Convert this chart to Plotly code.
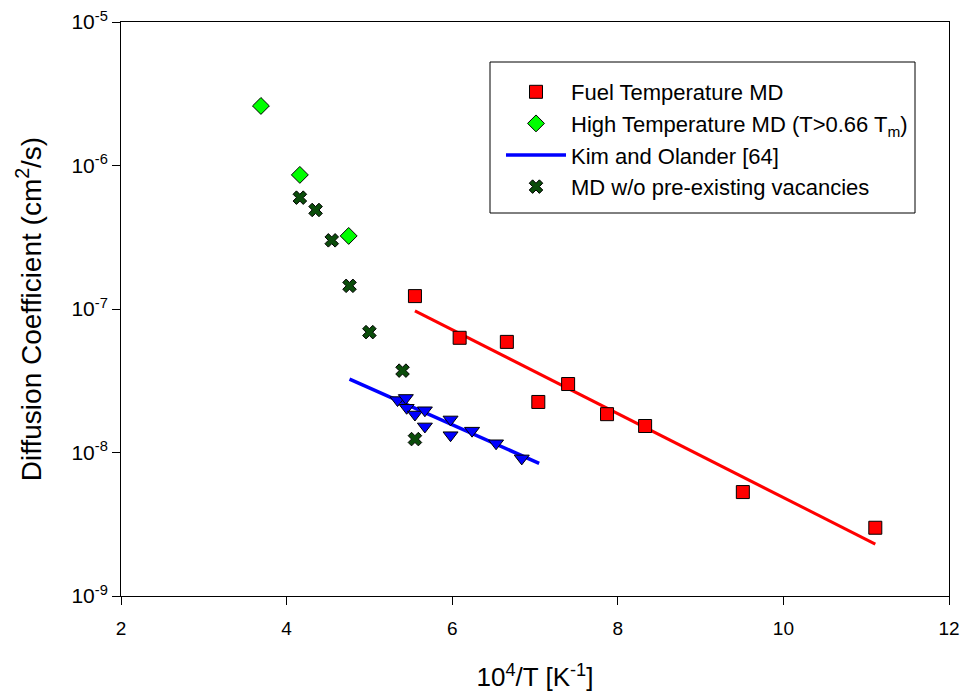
import plotly.graph_objects as go

# Fuel-temperature MD results
fuel_x = [5.55, 6.09, 6.66, 7.40, 7.04, 7.87, 8.33, 9.51, 11.11]
fuel_d = [1.23e-7, 6.3e-8, 5.9e-8, 3.0e-8, 2.25e-8, 1.85e-8, 1.53e-8, 5.3e-9, 2.99e-9]

# Arrhenius fit through the fuel-temperature points
fit_x = [5.55, 11.11]
fit_d = [9.7e-8, 2.3e-9]

# High-temperature MD (T > 0.66 Tm)
high_x = [3.69, 4.16, 4.75]
high_d = [2.6e-6, 8.6e-7, 3.23e-7]

# Kim and Olander [64]: measurements and fitted line
ko_x = [5.34, 5.44, 5.45, 5.55, 5.67, 5.67, 5.98, 5.98, 6.24, 6.53, 6.84]
ko_d = [2.32e-8, 2.40e-8, 2.05e-8, 1.84e-8, 1.97e-8, 1.52e-8, 1.70e-8, 1.32e-8, 1.42e-8, 1.16e-8, 9.1e-9]
ko_line_x = [4.76, 7.05]
ko_line_d = [3.25e-8, 8.4e-9]

# MD without pre-existing vacancies
novac_x = [4.16, 4.35, 4.545, 4.76, 5.00, 5.40, 5.55]
novac_d = [5.97e-7, 4.9e-7, 3.01e-7, 1.45e-7, 6.9e-8, 3.72e-8, 1.24e-8]

x_ticks = [2, 4, 6, 8, 10, 12]
y_ticks = [1e-9, 1e-8, 1e-7, 1e-6, 1e-5]
y_ticktext = ["10<sup>-9</sup>", "10<sup>-8</sup>", "10<sup>-7</sup>", "10<sup>-6</sup>", "10<sup>-5</sup>"]

FONT = "Arial, Liberation Sans, sans-serif"

fig = go.Figure()

fig.add_trace(go.Scatter(
    x=fit_x, y=fit_d, mode="lines", line=dict(color="#ff0000", width=3),
    showlegend=False, hoverinfo="skip"))

fig.add_trace(go.Scatter(
    x=ko_line_x, y=ko_line_d, mode="lines", line=dict(color="#0000ff", width=3.5),
    name="Kim and Olander [64]", legendrank=3))

fig.add_trace(go.Scatter(
    x=ko_x, y=ko_d, mode="markers",
    marker=dict(symbol="triangle-down", size=13, color="#0000ff",
                line=dict(color="#000000", width=1)),
    showlegend=False))

fig.add_trace(go.Scatter(
    x=fuel_x, y=fuel_d, mode="markers", name="Fuel Temperature MD",
    marker=dict(symbol="square", size=13, color="#ff0000",
                line=dict(color="#000000", width=1)),
    legendrank=1))

fig.add_trace(go.Scatter(
    x=high_x, y=high_d, mode="markers", name="High Temperature MD (T>0.66 T<sub>m</sub>)",
    marker=dict(symbol="diamond", size=13, color="#00ff00",
                line=dict(color="#000000", width=1)),
    legendrank=2))

fig.add_trace(go.Scatter(
    x=novac_x, y=novac_d, mode="markers", name="MD w/o pre-existing vacancies",
    marker=dict(symbol="x", size=12, color="#0b4d0b",
                line=dict(color="#000000", width=1)),
    legendrank=4))

# Legend frame
fig.add_shape(type="rect", xref="paper", yref="paper",
              x0=(490 - 121) / 828, x1=(915 - 121) / 828,
              y0=(596 - 213) / 574, y1=(596 - 62) / 574,
              line=dict(color="#000000", width=1), fillcolor="rgba(0,0,0,0)")

fig.update_layout(
    width=964, height=696,
    margin=dict(l=121, r=15, t=22, b=100, autoexpand=False),
    paper_bgcolor="white", plot_bgcolor="white",
    font=dict(family=FONT, size=18, color="#000000"),
    legend=dict(
        x=(501 - 121) / 828, y=(596 - 71) / 574, xanchor="left", yanchor="top",
        borderwidth=0, bgcolor="rgba(0,0,0,0)",
        font=dict(family=FONT, size=22),
        itemwidth=60, traceorder="normal"),
    xaxis=dict(
        range=[2, 12], tickvals=x_ticks, showgrid=False, zeroline=False,
        automargin=False,
        showline=True, linecolor="#000000", linewidth=1, mirror=True,
        ticks="outside", ticklen=8, tickcolor="#000000",
        ticklabelstandoff=7,
        tickfont=dict(family=FONT, size=19),
        title=dict(text="10<sup>4</sup>/T [K<sup>-1</sup>]", font=dict(family=FONT, size=26),
                   standoff=30)),
    yaxis=dict(
        type="log", range=[-9, -5], tickvals=y_ticks, ticktext=y_ticktext,
        showgrid=False, zeroline=False, automargin=False,
        showline=True, linecolor="#000000", linewidth=1, mirror=True,
        ticks="outside", ticklen=8, tickcolor="#000000",
        tickfont=dict(family=FONT, size=21),
        title=dict(text="Diffusion Coefficient (cm<sup>2</sup>/s)", font=dict(family=FONT, size=28),
                   standoff=21)),
)

fig.write_html("out.html")
